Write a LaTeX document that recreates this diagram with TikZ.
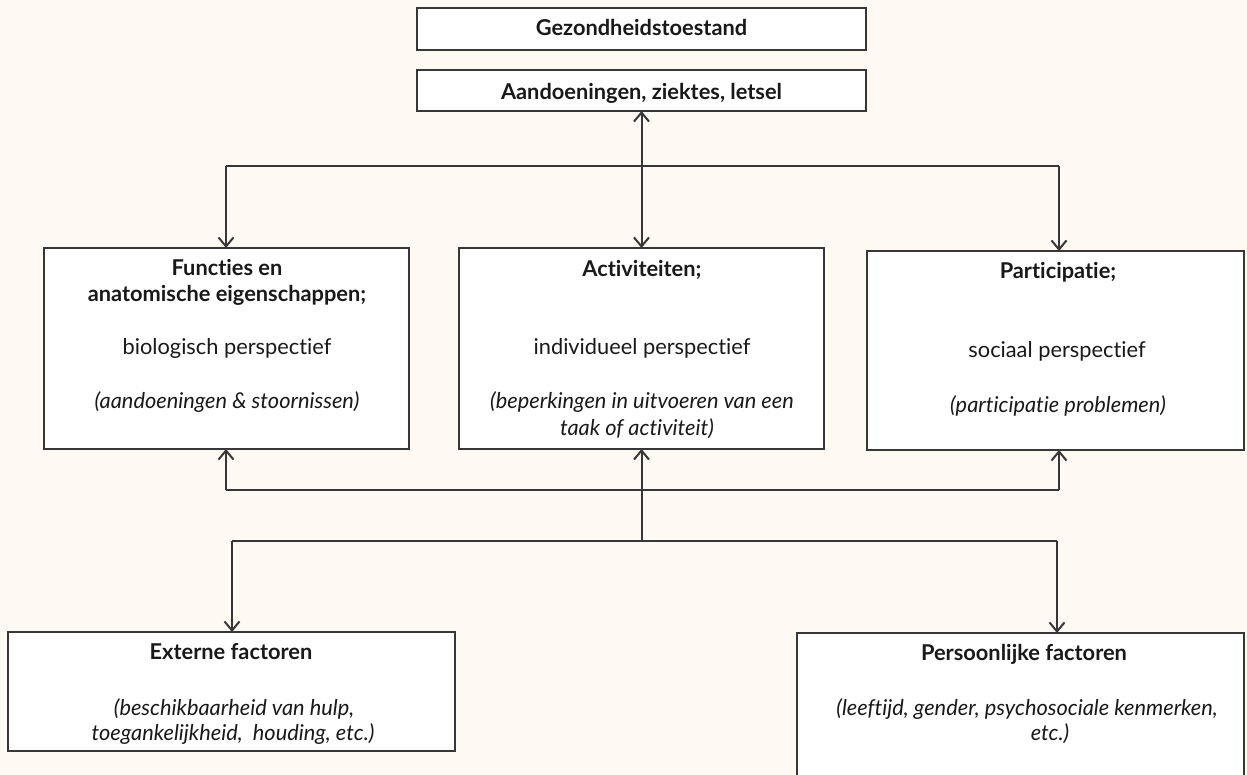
\documentclass[tikz,border=0pt]{standalone}
\usepackage{fontspec}
\setmainfont{Lato}[Ligatures={NoCommon,NoRare}]
\usetikzlibrary{arrows.meta}
\definecolor{bg}{RGB}{254,249,242}
\definecolor{ln}{RGB}{55,55,55}
\definecolor{tx}{RGB}{25,25,25}
\tikzset{
  box/.style={draw=ln, line width=2pt, fill=white, inner sep=0pt, outer sep=0pt},
  con/.style={draw=ln, line width=2pt},
  tip/.style={-{Straight Barb[length=9pt,width=15pt,line width=2pt]}},
  dtip/.style={{Straight Barb[length=9pt,width=15pt,line width=2pt]}-{Straight Barb[length=9pt,width=15pt,line width=2pt]}},
  lab/.style={anchor=base, inner sep=0pt, text=tx, font=\fontsize{21.8}{27}\selectfont},
  hd/.style={lab, font=\fontsize{21.8}{27}\selectfont\bfseries},
  it/.style={lab, font=\fontsize{21.8}{27}\selectfont\itshape},
}
\begin{document}
\begin{tikzpicture}[x=1pt,y=-1pt]
\fill[bg] (0,0) rectangle (1247,775);
\useasboundingbox (0,0) rectangle (1247,775);

% boxes
\node[box, minimum width=449pt, minimum height=42pt] (gez) at (641.5,29) {};
\node[box, minimum width=449pt, minimum height=41pt] (aand) at (641.5,90.5) {};
\node[box, minimum width=365pt, minimum height=201pt] (func) at (226.5,348.5) {};
\node[box, minimum width=365pt, minimum height=201pt] (act) at (641.5,348.5) {};
\node[box, minimum width=377pt, minimum height=199pt] (part) at (1055.5,350.5) {};
\node[box, minimum width=447pt, minimum height=119pt] (ext) at (231.5,691.5) {};
\node[box, minimum width=447pt, minimum height=154pt] (pers) at (1020.5,710) {};

% texts
\node[hd] (t1) at (641.5,36) {Gezondheidstoestand};
\node[hd] (t2) at (641.5,100) {Aandoeningen, ziektes, letsel};

\node[hd] (f1) at (227,276) {Functies en};
\node[hd] (f2) at (227,302) {anatomische eigenschappen;};
\node[lab] (f3) at (227,355) {biologisch perspectief};
\node[it] (f4) at (227,408) {(aandoeningen \& stoornissen)};

\node[hd] (a1) at (642,277) {Activiteiten;};
\node[lab] (a2) at (642,355) {individueel perspectief};
\node[it] (a3) at (642,408) {(beperkingen in uitvoeren van een};
\node[it] (a4) at (637,435) {taak of activiteit)};

\node[hd] (p1) at (1058,279) {Participatie;};
\node[lab] (p2) at (1057,357) {sociaal perspectief};
\node[it] (p3) at (1058,412) {(participatie problemen)};

\node[hd] (e1) at (231,659) {Externe factoren};
\node[it] (e2) at (234,715) {(beschikbaarheid van hulp,};
\node[it] (e3) at (233,740) {toegankelijkheid,\ \ houding, etc.)};

\node[hd] (q1) at (1024,660) {Persoonlijke factoren};
\node[it] (q2) at (1027,715) {(leeftijd, gender, psychosociale kenmerken,};
\node[it] (q3) at (1050,740) {etc.)};

% top connectors
\draw[con, dtip] (aand.south) -- (act.north);
\coordinate (tl) at (226,166);
\coordinate (tr) at (1059,166);
\draw[con] (tl) -- (tr);
\draw[con, tip] (tl) -- (tl |- func.north);
\draw[con, tip] (tr) -- (tr |- part.north);

% middle connectors
\coordinate (ml) at (226,490);
\coordinate (mr) at (1059,490);
\draw[con] (ml) -- (mr);
\draw[con, tip] (ml) -- (ml |- func.south);
\draw[con, tip] (mr) -- (mr |- part.south);

% bottom connectors
\coordinate (bc) at (641.5,541);
\coordinate (bl) at (232,541);
\coordinate (br) at (1057,541);
\draw[con, tip] (bc) -- (act.south);
\draw[con] (bl) -- (br);
\draw[con, tip] (bl) -- (bl |- ext.north);
\draw[con, tip] (br) -- (br |- pers.north);
\end{tikzpicture}
\end{document}
